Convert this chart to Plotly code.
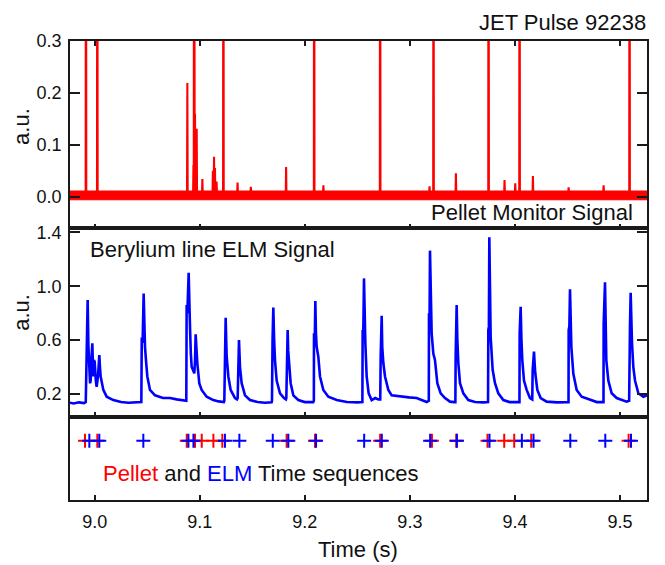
import plotly.graph_objects as go

# ---------------- data ----------------
t_min, t_max = 8.9765, 9.5257

# Pellet monitor signal: noise band edges and spikes (time, height)
pellet_band_low = -0.006
pellet_band_high = 0.010
pellet_spike_t = [8.9917, 9.0025, 9.0882, 9.0940, 9.0946, 9.0955, 9.0971, 9.1025,
                  9.1125, 9.1136, 9.1145, 9.1160, 9.1225, 9.1360, 9.1486, 9.1822,
                  9.2089, 9.2177, 9.2717, 9.3187, 9.3225, 9.3438, 9.3749, 9.3901,
                  9.4003, 9.4044, 9.4171, 9.4511, 9.4844, 9.5091]
pellet_spike_v = [1.0, 1.0, 0.219, 0.061, 1.0, 0.160, 0.131, 0.034,
                  0.050, 0.077, 0.055, 0.029, 1.0, 0.027, 0.019, 0.057,
                  1.0, 0.022, 1.0, 0.020, 1.0, 0.045, 1.0, 0.032,
                  0.026, 1.0, 0.040, 0.018, 0.022, 1.0]

# Beryllium line ELM signal (time, a.u.)
elm_t = [8.9765, 8.9800, 8.9850, 8.9900, 8.9915, 8.99236, 8.99290, 8.99331, 8.99400, 8.99489,
         8.99560, 8.99616, 8.99700, 8.99774, 8.99830, 8.99870, 8.99920, 8.99997, 9.00110, 9.00187,
         9.00314, 9.00380, 9.00441, 9.00500, 9.00568, 9.00821, 9.01139, 9.01773, 9.0250, 9.0320,
         9.0400, 9.0444, 9.04480, 9.04560, 9.04661, 9.04740, 9.04788, 9.04883, 9.05010, 9.05264,
         9.05740, 9.0650, 9.0717, 9.0780, 9.0859, 9.0872, 9.08754, 9.0882, 9.08944, 9.0900,
         9.09071, 9.0915, 9.0923, 9.09483, 9.0955, 9.0961, 9.0968, 9.09769, 9.09959, 9.10181,
         9.10657, 9.1129, 9.1180, 9.1230, 9.12339, 9.12400, 9.12466, 9.12520, 9.12561, 9.1272,
         9.12942, 9.13354, 9.1355, 9.13608, 9.1368, 9.13735, 9.1383, 9.13989, 9.14306, 9.14782,
         9.1550, 9.1620, 9.1684, 9.16876, 9.1693, 9.17003, 9.1708, 9.17162, 9.17321, 9.17638,
         9.18019, 9.1820, 9.1824, 9.1830, 9.18367, 9.1842, 9.18494, 9.18653, 9.18906, 9.19382,
         9.2000, 9.2080, 9.20860, 9.20874, 9.2095, 9.21001, 9.2106, 9.21128, 9.21286, 9.21445,
         9.21762, 9.22238, 9.23031, 9.2400, 9.2500, 9.2548, 9.25506, 9.2556, 9.25633, 9.2570,
         9.2576, 9.25887, 9.26077, 9.26363, 9.2670, 9.26997, 9.2718, 9.27221, 9.2727, 9.27316,
         9.2737, 9.27474, 9.27633, 9.2795, 9.28267, 9.2906, 9.2990, 9.30646, 9.3120, 9.31598,
         9.3180, 9.31819, 9.3187, 9.31915, 9.3198, 9.32073, 9.32232, 9.32391, 9.32613, 9.3293,
         9.33343, 9.33819, 9.3420, 9.3433, 9.34358, 9.34453, 9.3452, 9.34612, 9.3477, 9.35088,
         9.35563, 9.3620, 9.3700, 9.3744, 9.37467, 9.3752, 9.37562, 9.3762, 9.37689, 9.37879,
         9.38101, 9.38418, 9.38894, 9.3950, 9.4000, 9.4043, 9.40449, 9.40545, 9.4062, 9.40703,
         9.40862, 9.41116, 9.41433, 9.4165, 9.41688, 9.4175, 9.41815, 9.4188, 9.41942, 9.42132,
         9.42449, 9.4302, 9.4400, 9.4500, 9.4510, 9.45115, 9.4518, 9.45242, 9.4531, 9.45369,
         9.45559, 9.45876, 9.46352, 9.47145, 9.4780, 9.4843, 9.48445, 9.48572, 9.4864, 9.48699,
         9.48889, 9.49206, 9.49682, 9.5030, 9.50634, 9.5087, 9.50888, 9.5095, 9.51015, 9.5108,
         9.51142, 9.51269, 9.51428, 9.51745, 9.5222, 9.5257]
elm_v = [0.135, 0.130, 0.138, 0.132, 0.140, 0.650, 0.600, 0.898, 0.560, 0.428,
         0.279, 0.300, 0.470, 0.576, 0.420, 0.330, 0.452, 0.440, 0.300, 0.254,
         0.330, 0.420, 0.489, 0.400, 0.329, 0.230, 0.180, 0.155, 0.140, 0.135,
         0.138, 0.140, 0.620, 0.580, 0.946, 0.600, 0.550, 0.450, 0.330, 0.230,
         0.190, 0.170, 0.170, 0.160, 0.150, 0.150, 0.860, 0.800, 1.100, 0.800,
         0.700, 0.500, 0.403, 0.353, 0.450, 0.643, 0.500, 0.428, 0.279, 0.230,
         0.180, 0.155, 0.145, 0.140, 0.150, 0.600, 0.766, 0.600, 0.480, 0.330,
         0.230, 0.170, 0.160, 0.170, 0.450, 0.600, 0.400, 0.280, 0.190, 0.155,
         0.140, 0.135, 0.138, 0.150, 0.600, 0.842, 0.600, 0.450, 0.300, 0.205,
         0.170, 0.160, 0.170, 0.500, 0.674, 0.520, 0.430, 0.280, 0.190, 0.155,
         0.140, 0.140, 0.150, 0.650, 0.600, 0.890, 0.650, 0.551, 0.477, 0.330,
         0.230, 0.180, 0.155, 0.140, 0.138, 0.140, 0.675, 0.620, 1.058, 0.700,
         0.583, 0.330, 0.205, 0.155, 0.170, 0.160, 0.160, 0.480, 0.600, 0.781,
         0.550, 0.430, 0.330, 0.230, 0.190, 0.180, 0.175, 0.170, 0.150, 0.140,
         0.150, 0.800, 0.700, 1.264, 0.800, 0.650, 0.500, 0.450, 0.280, 0.205,
         0.170, 0.143, 0.140, 0.140, 0.480, 0.860, 0.600, 0.430, 0.280, 0.205,
         0.155, 0.140, 0.138, 0.140, 0.675, 0.700, 1.363, 0.800, 0.625, 0.380,
         0.280, 0.205, 0.155, 0.140, 0.138, 0.140, 0.650, 0.848, 0.600, 0.450,
         0.300, 0.230, 0.170, 0.160, 0.380, 0.450, 0.514, 0.420, 0.350, 0.230,
         0.170, 0.143, 0.138, 0.140, 0.140, 0.675, 0.700, 0.977, 0.650, 0.550,
         0.350, 0.230, 0.180, 0.155, 0.140, 0.140, 0.720, 1.029, 0.600, 0.450,
         0.300, 0.205, 0.170, 0.150, 0.143, 0.150, 0.675, 0.700, 0.952, 0.650,
         0.580, 0.400, 0.300, 0.205, 0.180, 0.190]

# Event time sequences
pellet_times = [8.9908, 9.0025, 9.0876, 9.0955, 9.1019, 9.1130, 9.1215, 9.1827,
                9.2097, 9.2717, 9.3210, 9.3441, 9.3739, 9.3898, 9.3993, 9.4155, 9.5082]
elm_times = [8.9949, 9.0044, 9.0463, 9.0892, 9.0940, 9.1240, 9.1377, 9.1695, 9.1843,
             9.2107, 9.2565, 9.2733, 9.3193, 9.3448, 9.3758, 9.4066, 9.4177, 9.4527,
             9.4860, 9.5105]

x_tickvals = [9.0, 9.1, 9.2, 9.3, 9.4, 9.5]
x_ticktext = ["9.0", "9.1", "9.2", "9.3", "9.4", "9.5"]
top_tickvals = [0.0, 0.1, 0.2, 0.3]
top_ticktext = ["0.0", "0.1", "0.2", "0.3"]
mid_tickvals = [0.2, 0.6, 1.0, 1.4]
mid_ticktext = ["0.2", "0.6", "1.0", "1.4"]
event_row = 0.71

# ---------------- build pellet envelope polyline from spikes ----------------
half_w = 0.0003
px = [t_min]
py = [pellet_band_high]
for t, v in sorted(zip(pellet_spike_t, pellet_spike_v)):
    px += [t - half_w, t, t + half_w]
    py += [pellet_band_high, v, pellet_band_high]
px.append(t_max)
py.append(pellet_band_high)

RED = "#ff0000"
BLUE = "#0000ff"
AX = "#1a1a1a"
FONT = "Liberation Sans, Arial, sans-serif"

fig = go.Figure()
fig.add_trace(go.Scatter(x=[t_min, t_max], y=[pellet_band_low, pellet_band_low],
                         mode="lines", line=dict(color=RED, width=1),
                         xaxis="x", yaxis="y", hoverinfo="skip"))
fig.add_trace(go.Scatter(x=px, y=py, mode="lines", line=dict(color=RED, width=2.1),
                         fill="tonexty", fillcolor=RED, xaxis="x", yaxis="y"))
fig.add_trace(go.Scatter(x=elm_t, y=elm_v, mode="lines",
                         line=dict(color=BLUE, width=2.6), xaxis="x2", yaxis="y2"))
fig.add_trace(go.Scatter(x=pellet_times, y=[event_row] * len(pellet_times), mode="markers",
                         marker=dict(symbol="cross-thin", size=10,
                                     line=dict(color=RED, width=2)),
                         xaxis="x3", yaxis="y3"))
fig.add_trace(go.Scatter(x=elm_times, y=[event_row] * len(elm_times), mode="markers",
                         marker=dict(symbol="cross-thin", size=10,
                                     line=dict(color=BLUE, width=2)),
                         xaxis="x3", yaxis="y3"))

d_bot = [0.0, 0.1815]
d_mid = [0.1815, 0.5919]
d_top = [0.5919, 1.0]

common_x = dict(range=[t_min, t_max], showgrid=False, zeroline=False, showline=True,
                linecolor=AX, linewidth=1.6, ticks="inside", ticklen=5, tickwidth=1.5,
                tickcolor=AX, tickvals=x_tickvals, ticktext=x_ticktext)
common_y = dict(showgrid=False, zeroline=False, showline=True, linecolor=AX, linewidth=1.6,
                ticks="inside", ticklen=10, tickwidth=1.5, tickcolor=AX, mirror="ticks",
                ticklabelstandoff=3,
                tickfont=dict(family=FONT, size=18, color="#111"))

fig.update_layout(
    width=665, height=565,
    margin=dict(l=70, r=18, t=41, b=65),
    paper_bgcolor="white", plot_bgcolor="white",
    showlegend=False,
    font=dict(family=FONT, size=18, color="#111"),
    xaxis=dict(common_x, domain=[0, 1], anchor="y", mirror="ticks", showticklabels=False),
    xaxis2=dict(common_x, domain=[0, 1], anchor="y2", mirror=True, showticklabels=False),
    xaxis3=dict(common_x, domain=[0, 1], anchor="y3", mirror=True, showticklabels=True,
                ticklabelstandoff=5,
                tickfont=dict(family=FONT, size=18, color="#111")),
    yaxis=dict(common_y, domain=d_top, anchor="x", range=[-0.061, 0.3],
               tickvals=top_tickvals, ticktext=top_ticktext),
    yaxis2=dict(common_y, domain=d_mid, anchor="x2", range=[0.0315, 1.4297],
                tickvals=mid_tickvals, ticktext=mid_ticktext),
    yaxis3=dict(domain=d_bot, anchor="x3", range=[0, 1], showgrid=False, zeroline=False,
                showline=True, linecolor=AX, linewidth=1.6, mirror=True, ticks="",
                showticklabels=False),
)

ann_font = dict(family=FONT, size=22, color="#111")
fig.add_annotation(text="JET Pulse 92238", xref="paper", yref="paper", x=1.002, y=1.0403,
                   xanchor="right", yanchor="middle", showarrow=False, font=ann_font)
fig.add_annotation(text="Pellet Monitor Signal", xref="paper", yref="paper", x=0.9792,
                   y=0.6255, xanchor="right", yanchor="middle", showarrow=False, font=ann_font)
fig.add_annotation(text="Berylium line ELM Signal", xref="paper", yref="paper", x=0.0317,
                   y=0.5464, xanchor="left", yanchor="middle", showarrow=False, font=ann_font)
fig.add_annotation(text="<span style='color:#ff0000'>Pellet</span> and "
                        "<span style='color:#0000ff'>ELM</span> Time sequences",
                   xref="paper", yref="paper", x=0.0532, y=0.0588, xanchor="left",
                   yanchor="middle", showarrow=False, font=ann_font)
fig.add_annotation(text="Time (s)", xref="paper", yref="paper", x=0.499, y=-0.1068,
                   xanchor="center", yanchor="middle", showarrow=False, font=ann_font)
fig.add_annotation(text="a.u.", xref="paper", yref="paper", x=-0.0832, y=0.815,
                   xanchor="center", yanchor="middle", textangle=-90, showarrow=False,
                   font=ann_font)
fig.add_annotation(text="a.u.", xref="paper", yref="paper", x=-0.0832, y=0.410,
                   xanchor="center", yanchor="middle", textangle=-90, showarrow=False,
                   font=ann_font)

fig.write_html("out.html", config={"displayModeBar": False},
               post_script="document.body.style.margin='0';document.body.style.padding='0';")
